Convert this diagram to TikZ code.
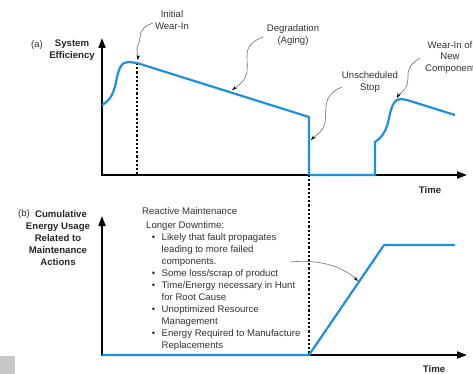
\documentclass[tikz,border=0pt]{standalone}
\usepackage{fontspec}
\setmainfont{Liberation Sans}
\usetikzlibrary{arrows.meta}
\definecolor{cblue}{RGB}{30,144,218}
\definecolor{ctext}{RGB}{50,50,50}
\definecolor{clead}{RGB}{110,110,110}
\begin{document}
\begin{tikzpicture}[x=1pt,y=-1pt,
  axis/.style={line width=1.8pt, -{Triangle[length=10pt,width=7pt]}},
  curve/.style={cblue, line width=2.2pt, line join=round},
  guide/.style={line width=1.5pt, dash pattern=on 2.2pt off 2pt},
  lead/.style={clead, line width=0.6pt, -{Stealth[black,length=5pt,width=3.5pt]}},
  lbl/.style={font=\fontsize{9.6}{11.5}\selectfont, text=ctext, align=center, inner sep=0pt},
  blbl/.style={lbl, font=\fontsize{9.6}{12}\selectfont\bfseries, text=black!85},
  txt/.style={font=\fontsize{9.6}{12}\selectfont, text=ctext, align=left, inner sep=0pt}]
\useasboundingbox (0,0) rectangle (473,374);
\fill[black!22] (0,356) rectangle (15,374);

% ---------- panel (a) ----------
\coordinate (a0) at (102,176);
\coordinate (ay) at (102,38);
\coordinate (ax) at (467,175);
\draw[axis] (a0) -- (ay);
\draw[axis] (101,175) -- (ax);

\coordinate (pk1) at (137,63);
\coordinate (drop) at (309,117);
\coordinate (dropb) at (309,175);
\coordinate (rise) at (375,175);
\coordinate (riset) at (375,142);
\coordinate (endA) at (455,115);

\draw[guide] (pk1) -- (137,175);

\draw[curve] (102,105) .. controls (111,100) and (114,92) .. (116,82)
  .. controls (119,66) and (122,62) .. (129,62) -- (pk1) -- (drop) -- (dropb) -- (rise) -- (riset)
  .. controls (384,136) and (387,128) .. (389,118)
  .. controls (392,104) and (395,99) .. (401,99) -- (407,100) -- (endA);

\node[lbl] (ta) at (37,45) {(a)};
\node[blbl, align=center] (sysEff) at (72,50.5) {System\\Efficiency};
\node[blbl] (timeA) at (430,190) {Time};

\node[lbl] (iw) at (172,20) {Initial\\Wear-In};
\node[lbl] (deg) at (293,35) {Degradation\\(Aging)};
\node[lbl] (us) at (370,82) {Unscheduled\\Stop};
\node[lbl] (wn) at (450,57.5) {Wear-In of\\New\\Component};

\coordinate (iwE) at (137.5,60);
\coordinate (degE) at (232,90);
\coordinate (usE) at (311,140);
\coordinate (wnE) at (397,98);

\draw[lead] (153,23) .. controls (146,25) and (140,30) .. (140,37)
  .. controls (140,44) and (136,46) .. (137,51) .. controls (138,55) and (138,57) .. (iwE);
\draw[lead] (263,37) .. controls (255,40) and (247,45) .. (247,55)
  .. controls (247,66) and (249,75) .. (242,82) .. controls (238,86) and (235,88) .. (degE);
\draw[lead] (342,87) .. controls (334,90) and (327,96) .. (326,106)
  .. controls (325,117) and (327,125) .. (320,132) .. controls (316,136) and (313,138) .. (usE);
\draw[lead] (420,58) .. controls (413,62) and (408,67) .. (408,75)
  .. controls (408,84) and (407,88) .. (402,92) .. controls (399,94) and (398,96) .. (wnE);

% ---------- panel (b) ----------
\coordinate (b0) at (102,356);
\coordinate (by) at (102,216);
\coordinate (bx) at (467,355);
\draw[axis] (b0) -- (by);
\draw[axis] (101,355) -- (bx);

\draw[guide] (dropb) -- (309,355);

\coordinate (bstart) at (102,355);
\coordinate (bknee) at (309,355);
\coordinate (btop) at (384,245);
\coordinate (bend) at (455,245);
\draw[curve] (bstart) -- (bknee) -- (btop) -- (bend);

\node[lbl] (tb) at (24,214) {(b)};
\node[blbl, anchor=north] (cum) at (58,210) {\hspace*{6pt}Cumulative\\Energy Usage\\Related to\\Maintenance\\Actions};
\node[blbl] (timeB) at (434,369) {Time};

\node[txt, anchor=base west] (rm) at (142,214.5) {Reactive Maintenance};
\node[txt, anchor=base west] (ld) at (146,228.5) {Longer Downtime:};
\node[txt, anchor=north west] (list) at (161.5,233.3) {%
\llap{\textbullet\hspace{6.5pt}}Likely that fault propagates\\
leading to more failed\\
components.\\
\llap{\textbullet\hspace{6.5pt}}Some loss/scrap of product\\
\llap{\textbullet\hspace{6.5pt}}Time/Energy necessary in Hunt\\
for Root Cause\\
\llap{\textbullet\hspace{6.5pt}}Unoptimized Resource\\
Management\\
\llap{\textbullet\hspace{6.5pt}}Energy Required to Manufacture\\
Replacements};

\coordinate (lbE) at (358,281);
\draw[lead] (290,262) .. controls (318,259) and (342,266) .. (lbE);
\end{tikzpicture}
\end{document}
